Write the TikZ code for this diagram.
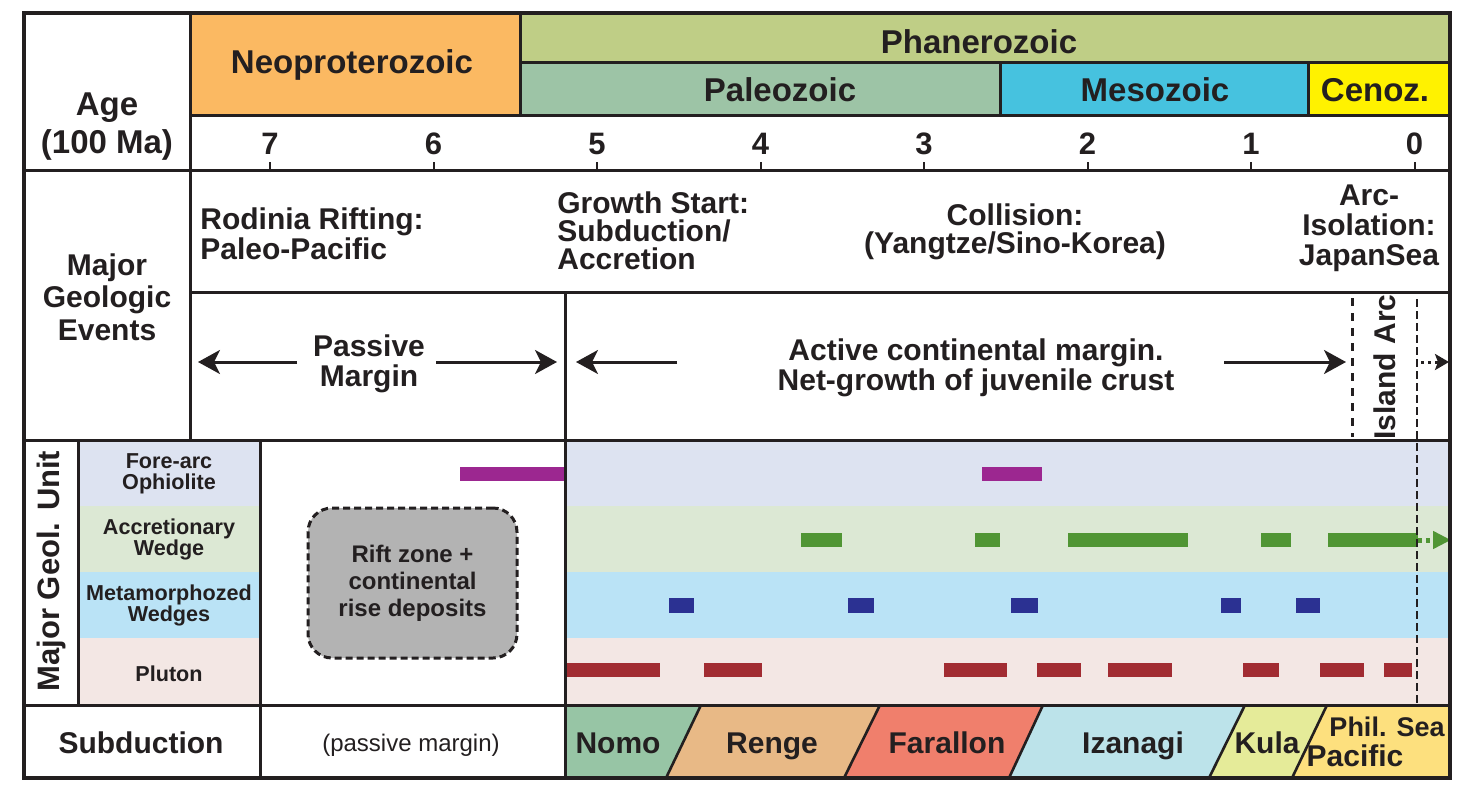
\documentclass[tikz,border=0pt]{standalone}
\usepackage{fontspec}
\setmainfont{Liberation Sans}
\usetikzlibrary{arrows.meta}
\definecolor{ink}{HTML}{231F20}
\definecolor{neo}{HTML}{FBB962}
\definecolor{phan}{HTML}{BFCE86}
\definecolor{paleo}{HTML}{9DC4A6}
\definecolor{meso}{HTML}{46C2DF}
\definecolor{ceno}{HTML}{FFF200}
\definecolor{bandA}{HTML}{DDE3F1}
\definecolor{bandB}{HTML}{DCE8D4}
\definecolor{bandC}{HTML}{BAE3F6}
\definecolor{bandD}{HTML}{F3E7E4}
\definecolor{barP}{HTML}{9C2790}
\definecolor{barG}{HTML}{509534}
\definecolor{barB}{HTML}{2B3192}
\definecolor{barR}{HTML}{A12C32}
\definecolor{riftgray}{HTML}{B3B3B3}
\definecolor{nomo}{HTML}{97C5A5}
\definecolor{renge}{HTML}{E8B986}
\definecolor{farallon}{HTML}{F07F6C}
\definecolor{izanagi}{HTML}{BCE3EA}
\definecolor{kula}{HTML}{E5EB99}
\definecolor{phil}{HTML}{FDE07E}
\tikzset{
  gridline/.style={line width=1.5pt, draw=ink},
  hdr/.style={font=\fontsize{16.5pt}{17pt}\selectfont\bfseries, text=ink, inner sep=0pt, align=center, anchor=base},
  evt/.style={font=\fontsize{15pt}{14pt}\selectfont\bfseries, text=ink, inner sep=0pt},
  unitlbl/.style={font=\fontsize{10.8pt}{10.5pt}\selectfont\bfseries, text=ink, align=center, inner sep=0pt},
  plate/.style={font=\fontsize{15pt}{14pt}\selectfont\bfseries, text=ink, inner sep=0pt, anchor=base},
  bigarrow/.style={line width=1.5pt, draw=ink, -{Stealth[length=11pt,width=12pt,inset=3pt]}},
}
\begin{document}
\begin{tikzpicture}[x=0.5pt,y=-0.5pt]
\useasboundingbox (0,0) rectangle (1472,803);
% header fills
\fill[neo] (190,13) rectangle (520,115);
\fill[phan] (520,13) rectangle (1450,62);
\fill[paleo] (520,62) rectangle (1000,115);
\fill[meso] (1000,62) rectangle (1308,115);
\fill[ceno] (1308,62) rectangle (1450,115);
% unit bands
\foreach \c/\a/\b in {bandA/440/506, bandB/506/572, bandC/572/638, bandD/638/705} {
  \fill[\c] (78,\a) rectangle (260,\b);
  \fill[\c] (565,\a) rectangle (1450,\b);
}
% subduction plates
\fill[nomo] (565,705) -- (701,705) -- (666,778) -- (565,778) -- cycle;
\fill[renge] (701,705) -- (880,705) -- (844,778) -- (666,778) -- cycle;
\fill[farallon] (880,705) -- (1043,705) -- (1009,778) -- (844,778) -- cycle;
\fill[izanagi] (1043,705) -- (1245,705) -- (1209,778) -- (1009,778) -- cycle;
\fill[kula] (1245,705) -- (1327,705) -- (1292,778) -- (1209,778) -- cycle;
\fill[phil] (1327,705) -- (1450,705) -- (1450,778) -- (1292,778) -- cycle;
\foreach \t/\b in {701/666, 880/844, 1043/1009, 1245/1209, 1327/1292}
  \draw[gridline, line width=1.3pt] (\t,705) -- (\b,778);
% bars
\fill[barP] (460,467) rectangle (565,481);
\fill[barP] (982,467) rectangle (1042,481);
\foreach \l/\r in {801/842, 975/1000, 1068/1188, 1261/1291, 1328/1418}
  \fill[barG] (\l,533) rectangle (\r,547);
\foreach \l/\r in {669/694, 848/874, 1011/1038, 1221/1241, 1296/1320}
  \fill[barB] (\l,598) rectangle (\r,613);
\foreach \l/\r in {565/660, 704/762, 944/1007, 1037/1081, 1108/1172, 1243/1279, 1320/1364, 1384/1412}
  \fill[barR] (\l,663) rectangle (\r,677);
\coordinate (gA) at (1418,540);
\coordinate (gB) at (1451,540);
\draw[barG, line width=2.5pt, dash pattern=on 2pt off 2pt, -{Triangle[length=9pt,width=8.5pt]}] (gA) -- (gB);
% grid lines
\draw[gridline, line width=1.7pt] (24,13) rectangle (1450,778);
\draw[gridline] (190,13) -- (190,440);
\draw[gridline] (520,13) -- (520,115);
\draw[gridline] (520,62) -- (1450,62);
\draw[gridline] (1000,62) -- (1000,115);
\draw[gridline] (1308,62) -- (1308,115);
\draw[gridline] (190,115) -- (1450,115);
\draw[gridline] (24,170) -- (1450,170);
\foreach \a in {0,...,7}
  \draw[gridline, line width=1pt] ({1414.5-163.5*\a},162) -- ({1414.5-163.5*\a},170);
\draw[gridline] (190,292) -- (1450,292);
\draw[gridline] (565,292) -- (565,778);
\draw[gridline] (24,440) -- (1450,440);
\draw[gridline] (78,440) -- (78,705);
\draw[gridline] (260,440) -- (260,778);
\draw[gridline] (24,705) -- (1450,705);
% header texts
\node[hdr] (neoT) at (352,73) {Neoproterozoic};
\node[hdr] (phanT) at (979,53) {Phanerozoic};
\node[hdr] (paleoT) at (780,101.5) {Paleozoic};
\node[hdr] (mesoT) at (1155,101.5) {Mesozoic};
\node[hdr] (cenoT) at (1375,101.5) {Cenoz.};
\node[hdr] (ageT) at (107,115) {Age};
\node[hdr] (maT) at (107,153) {(100 Ma)};
\foreach \a in {0,...,7}
  \node[hdr, font=\fontsize{15.5pt}{16pt}\selectfont\bfseries] (tick\a) at ({1414.5-163.5*\a},154) {\a};
% events
\node[evt, align=center, font=\fontsize{15pt}{16.2pt}\selectfont\bfseries] (mge) at (107,297) {Major\\Geologic\\Events};
\node[evt, align=left, anchor=west] (rod) at (200,234) {Rodinia Rifting:\\Paleo-Pacific};
\node[evt, align=left, anchor=west] (grow) at (557,231) {Growth Start:\\Subduction/\\Accretion};
\node[evt, align=center] (coll) at (1015,232) {Collision:\\(Yangtze/Sino-Korea)};
\node[evt, align=center, font=\fontsize{15pt}{15pt}\selectfont\bfseries] (arc) at (1369,228) {Arc-\\Isolation:\\JapanSea};
\node[evt, align=center, font=\fontsize{15pt}{15pt}\selectfont\bfseries] (pasm) at (369,364) {Passive\\Margin};
\node[evt, align=center] (actm) at (976,368) {Active continental margin.\\Net-growth of juvenile crust};
\node[evt, rotate=90] (isl) at (1385,367) {Island Arc};
\coordinate (pA1) at (297,362); \coordinate (pA2) at (198,362);
\coordinate (pB1) at (436,362); \coordinate (pB2) at (557,362);
\coordinate (aA1) at (677,362); \coordinate (aA2) at (576,362);
\coordinate (aB1) at (1224,362); \coordinate (aB2) at (1346,362);
\draw[bigarrow] (pA1) -- (pA2);
\draw[bigarrow] (pB1) -- (pB2);
\draw[bigarrow] (aA1) -- (aA2);
\draw[bigarrow] (aB1) -- (aB2);
\coordinate (iaT) at (1352,298); \coordinate (iaB) at (1352,437);
\draw[ink, line width=1.5pt, dash pattern=on 4pt off 3.5pt] (iaT) -- (iaB);
\coordinate (zT) at (1417,299); \coordinate (zB) at (1417,705);
\draw[ink, line width=0.6pt, dash pattern=on 4pt off 2pt] (zT) -- (zB);
\coordinate (dA) at (1421,362); \coordinate (dB) at (1449,362);
\draw[ink, line width=1.5pt, dash pattern=on 1.5pt off 2pt, -{Stealth[length=7pt,width=8pt,inset=1.5pt]}] (dA) -- (dB);
% units
\node[hdr, anchor=center, rotate=90, font=\fontsize{15.5pt}{16pt}\selectfont\bfseries] (mgu) at (51,571) {Major Geol. Unit};
\node[unitlbl] (u1) at (169,474) {Fore-arc\\Ophiolite};
\node[unitlbl] (u2) at (169,539) {Accretionary\\Wedge};
\node[unitlbl] (u3) at (169,605) {Metamorphozed\\Wedges};
\node[unitlbl] (u4) at (169,674) {Pluton};
\node[draw=ink, fill=riftgray, line width=1.5pt, dash pattern=on 3.5pt off 2pt, rounded corners=12pt,
      minimum width=104.5pt, minimum height=75pt, align=center, text=ink,
      font=\fontsize{12pt}{13.5pt}\selectfont\bfseries] (rift) at (412.5,583) {Rift zone +\\continental\\rise deposits};
% subduction row
\node[plate] (subT) at (141,753) {Subduction};
\node[plate, font=\fontsize{12pt}{13pt}\selectfont] (pmT) at (411,751) {(passive margin)};
\node[plate] (nomoT) at (618,753) {Nomo};
\node[plate] (rengeT) at (772,753) {Renge};
\node[plate] (faraT) at (947,753) {Farallon};
\node[plate] (izaT) at (1133,753) {Izanagi};
\node[plate] (kulaT) at (1267,753) {Kula};
\node[plate, font=\fontsize{13.5pt}{14pt}\selectfont\bfseries] (philT) at (1387,736) {Phil. Sea};
\node[plate] (pacT) at (1355,766) {Pacific};
\end{tikzpicture}
\end{document}
